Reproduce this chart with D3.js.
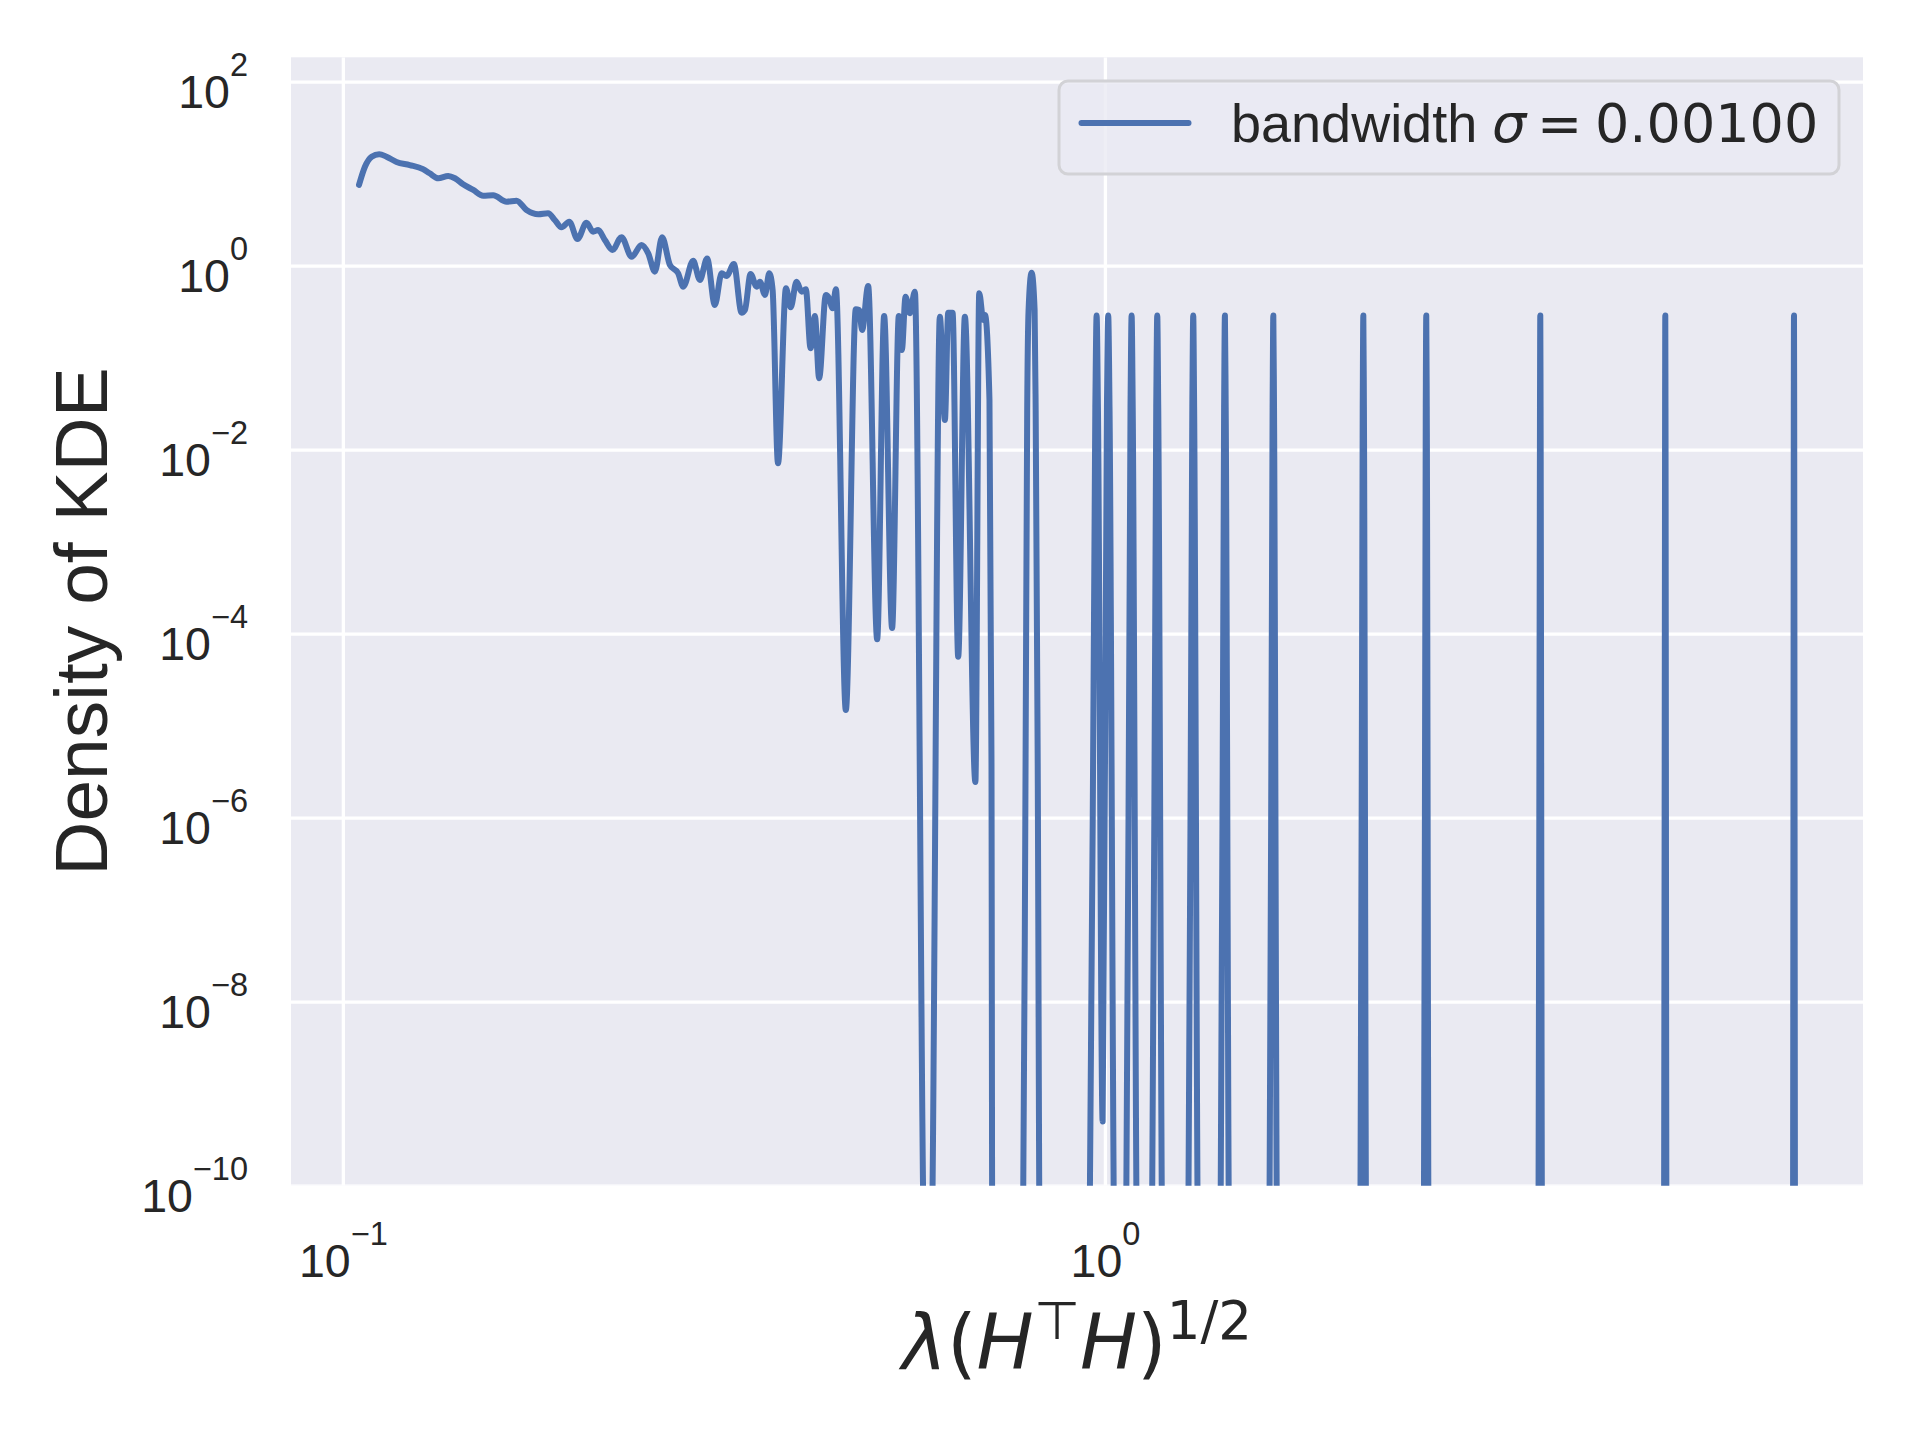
<!DOCTYPE html>
<html>
<head>
<meta charset="utf-8">
<script src="https://cdn.jsdelivr.net/npm/d3@7"></script>
<style>
  body { margin: 0; background: #ffffff; }
  svg { display: block; }
</style>
</head>
<body>
<svg id="chart" width="1920" height="1440"></svg>
<script>
// ---------- data ----------
const xDomain = [0.0855, 9.88];
const yDomain = [1e-10, 184];
const xTickValues = [0.1, 1];
const xTickExponents = ["\u22121", "0"];
const yTickValues = [1e2, 1e0, 1e-2, 1e-4, 1e-6, 1e-8, 1e-10];
const yTickExponents = ["2", "0", "\u22122", "\u22124", "\u22126", "\u22128", "\u221210"];

// smooth decreasing part of the KDE curve  [lambda, density]
const bulkPoints = [
  [0.1050, 7.54], [0.1069, 11.9], [0.1091, 15.3], [0.1116, 16.3], [0.1141, 15.3],
  [0.1176, 13.4], [0.1224, 12.4], [0.1274, 11.2], [0.1300, 10.1], [0.1334, 8.91],
  [0.1375, 9.44], [0.1403, 8.91], [0.1438, 7.67], [0.1483, 6.65], [0.1528, 5.77],
  [0.1575, 5.82], [0.1640, 4.96], [0.1690, 5.09], [0.1742, 4.03], [0.1805, 3.62],
  [0.1859, 3.71], [0.1897, 3.14], [0.1936, 2.61], [0.1982, 3.01], [0.2032, 1.95],
  [0.2088, 2.93], [0.2130, 2.34], [0.2163, 2.44], [0.2207, 1.90], [0.2259, 1.48],
  [0.2321, 2.04], [0.2393, 1.25], [0.2466, 1.68], [0.2516, 1.36], [0.2567, 0.861],
  [0.2624, 2.04], [0.2686, 1.02], [0.2754, 0.827], [0.2797, 0.591], [0.2882, 1.13],
  [0.2941, 0.699], [0.3006, 1.20], [0.3077, 0.374], [0.3141, 0.827], [0.3188, 0.773],
  [0.3259, 1.04], [0.3336, 0.308], [0.3370, 0.330], [0.3428, 0.812], [0.3491, 0.591],
  [0.3526, 0.670], [0.3580, 0.480], [0.3627, 0.827], [0.3664, 0.544]
];

// middle part with deep dips  [lambda, density]
const dipPoints = [
  [0.3724, 0.00711], [0.3815, 0.568], [0.3869, 0.353], [0.3939, 0.670], [0.3999, 0.522],
  [0.4051, 0.554], [0.4109, 0.1265], [0.4163, 0.284], [0.4217, 0.0597], [0.4303, 0.480],
  [0.4346, 0.442], [0.4391, 0.344], [0.4436, 0.554], [0.4571, 1.48e-5], [0.4711, 0.336],
  [0.4759, 0.330], [0.4802, 0.200], [0.4890, 0.602], [0.5025, 8.69e-5], [0.5132, 0.284],
  [0.5257, 1.15e-4], [0.5365, 0.284], [0.5414, 0.121], [0.5475, 0.460], [0.5546, 0.304],
  [0.5631, 0.522], [0.5805, 1e-11], [0.5910, 1e-11], [0.6073, 0.279], [0.6166, 0.0210],
  [0.6228, 0.308], [0.6311, 0.308], [0.6419, 5.62e-5], [0.6550, 0.279], [0.6761, 2.44e-6],
  [0.6840, 0.501], [0.6924, 0.257], [0.6960, 0.291], [0.7055, 0.0347], [0.7098, 4.24e-6],
  [0.7117, 1e-11]
];

// isolated spikes on the right  [lambda, density]
const spikePoints = [
  [0.7800, 1e-11], [0.7869, 5.0e-6], [0.7907, 0.0269], [0.7940, 0.331], [0.8013, 0.84],
  [0.8086, 0.331], [0.8112, 0.0269], [0.8161, 5.0e-6], [0.8217, 1e-11],
  [0.9537, 1e-11], [0.9714, 0.029], [0.9752, 0.287], [0.9791, 0.029], [0.9931, 5e-10],
  [1.0061, 0.029], [1.0100, 0.287], [1.0140, 0.029], [1.0304, 1e-11],
  [1.0652, 1e-11], [1.0804, 0.029], [1.0840, 0.287], [1.0876, 0.029], [1.1031, 1e-11],
  [1.1519, 1e-11], [1.1677, 0.029], [1.1713, 0.287], [1.1748, 0.029], [1.1909, 1e-11],
  [1.2855, 1e-11], [1.3022, 0.029], [1.3058, 0.287], [1.3094, 0.029], [1.3264, 1e-11],
  [1.4171, 1e-11], [1.4335, 0.029], [1.4370, 0.287], [1.4404, 0.029], [1.4571, 1e-11],
  [1.6428, 1e-11], [1.6597, 0.029], [1.6633, 0.287], [1.6668, 0.029], [1.6840, 1e-11],
  [2.1627, 1e-11], [2.1791, 0.029], [2.1831, 0.287], [2.1870, 0.029], [2.2036, 1e-11],
  [2.6205, 1e-11], [2.6364, 0.029], [2.6404, 0.287], [2.6444, 0.029], [2.6604, 1e-11],
  [3.7050, 1e-11], [3.7230, 0.029], [3.7264, 0.287], [3.7297, 0.029], [3.7478, 1e-11],
  [5.4153, 1e-11], [5.4333, 0.029], [5.4366, 0.287], [5.4398, 0.029], [5.4580, 1e-11],
  [7.9963, 1e-11], [8.0157, 0.029], [8.0205, 0.287], [8.0254, 0.029], [8.0448, 1e-11]
];

const legendWord = "bandwidth";
const legendSymbol = "\u03c3";
const legendValue = "0.00100";
const yLabelText = "Density of KDE";

// ---------- drawing ----------
const svg = d3.select("#chart");
const M = { left: 291, right: 1863, top: 57.3, bottom: 1185.7 };
const TEXT = "#262626";
const SANS = "'Liberation Sans', Arial, sans-serif";
const MATH = "'DejaVu Sans', sans-serif";

const x = d3.scaleLog().domain(xDomain).range([M.left, M.right]);
const y = d3.scaleLog().domain(yDomain).range([M.bottom, M.top]);

svg.append("rect").attr("width", 1920).attr("height", 1440).attr("fill", "#ffffff");

svg.append("defs").append("clipPath").attr("id", "plotclip")
  .append("rect").attr("x", M.left).attr("y", M.top)
  .attr("width", M.right - M.left).attr("height", M.bottom - M.top);

svg.append("rect").attr("x", M.left).attr("y", M.top)
  .attr("width", M.right - M.left).attr("height", M.bottom - M.top)
  .attr("fill", "#eaeaf2");

// grid lines
const grid = svg.append("g").attr("clip-path", "url(#plotclip)");
const gX = grid.append("g").attr("transform", `translate(0,${M.bottom})`)
  .call(d3.axisBottom(x).tickValues(xTickValues).tickSize(-(M.bottom - M.top)).tickFormat(() => ""));
const gY = grid.append("g").attr("transform", `translate(${M.left},0)`)
  .call(d3.axisLeft(y).tickValues(yTickValues).tickSize(-(M.right - M.left)).tickFormat(() => ""));
[gX, gY].forEach(g => {
  g.select(".domain").remove();
  g.selectAll(".tick line").attr("stroke", "#ffffff").attr("stroke-width", 3.3);
});

// tick labels
const axX = svg.append("g").attr("transform", `translate(0,${M.bottom})`)
  .call(d3.axisBottom(x).tickValues(xTickValues).tickSize(0).tickPadding(0).tickFormat(() => ""));
axX.select(".domain").remove();
axX.attr("font-family", null).attr("font-size", null);
axX.selectAll(".tick text").each(function (d, i) {
  const t = d3.select(this);
  t.attr("y", 91.5).attr("dy", null).attr("text-anchor", "middle")
    .attr("font-family", SANS).attr("font-size", 46.5).attr("fill", TEXT);
  t.append("tspan").text("10");
  t.append("tspan").attr("dy", -32).attr("font-size", 32.5).text(xTickExponents[i]);
});

const axY = svg.append("g").attr("transform", `translate(${M.left},0)`)
  .call(d3.axisLeft(y).tickValues(yTickValues).tickSize(0).tickPadding(43).tickFormat(() => ""));
axY.select(".domain").remove();
axY.attr("font-family", null).attr("font-size", null);
axY.selectAll(".tick text").each(function (d, i) {
  const t = d3.select(this);
  t.attr("y", 25.5).attr("dy", null).attr("text-anchor", "end")
    .attr("font-family", SANS).attr("font-size", 46.5).attr("fill", TEXT);
  t.append("tspan").text("10");
  t.append("tspan").attr("dy", -32).attr("font-size", 32.5).text(yTickExponents[i]);
});

// the KDE line
const allPoints = bulkPoints.concat(dipPoints, spikePoints);
const line = d3.line().x(d => x(d[0])).y(d => y(d[1])).curve(d3.curveMonotoneX);
svg.append("path")
  .attr("clip-path", "url(#plotclip)")
  .attr("d", line(allPoints))
  .attr("fill", "none")
  .attr("stroke", "#4c72b0")
  .attr("stroke-width", 6)
  .attr("stroke-linejoin", "round")
  .attr("stroke-linecap", "round");

// axis titles
svg.append("text")
  .attr("transform", `translate(107,${(M.top + M.bottom) / 2}) rotate(-90)`)
  .attr("text-anchor", "middle")
  .attr("font-family", SANS).attr("font-size", 75).attr("fill", TEXT)
  .text(yLabelText);

const xl = svg.append("text")
  .attr("x", (M.left + M.right) / 2).attr("y", 1369)
  .attr("text-anchor", "middle")
  .attr("font-family", MATH).attr("font-size", 76).attr("fill", TEXT);
xl.append("tspan").attr("font-style", "italic").text("\u03bb");
xl.append("tspan").text("(");
xl.append("tspan").attr("font-style", "italic").text("H");
xl.append("tspan").attr("dy", -30).attr("font-size", 53).text("\u22a4");
xl.append("tspan").attr("dy", 30).attr("font-style", "italic").text("H");
xl.append("tspan").text(")");
xl.append("tspan").attr("dy", -30).attr("font-size", 53).text("1/2");

// legend
const lg = svg.append("g");
lg.append("rect")
  .attr("x", 1059).attr("y", 81).attr("width", 780).attr("height", 93).attr("rx", 9)
  .attr("fill", "#eaeaf2").attr("fill-opacity", 0.8)
  .attr("stroke", "#d2d2d6").attr("stroke-width", 3);
lg.append("line")
  .attr("x1", 1081.5).attr("x2", 1188.5).attr("y1", 123).attr("y2", 123)
  .attr("stroke", "#4c72b0").attr("stroke-width", 6).attr("stroke-linecap", "round");
const lt = lg.append("text").attr("y", 142).attr("font-size", 54).attr("fill", TEXT);
lt.append("tspan").attr("x", 1231).attr("font-family", SANS).text(legendWord);
lt.append("tspan").attr("x", 1492).attr("font-family", MATH).attr("font-style", "italic").text(legendSymbol);
lt.append("tspan").attr("x", 1537).attr("font-family", MATH).text("=");
lt.append("tspan").attr("x", 1595).attr("font-family", MATH).text(legendValue);
</script>
</body>
</html>
